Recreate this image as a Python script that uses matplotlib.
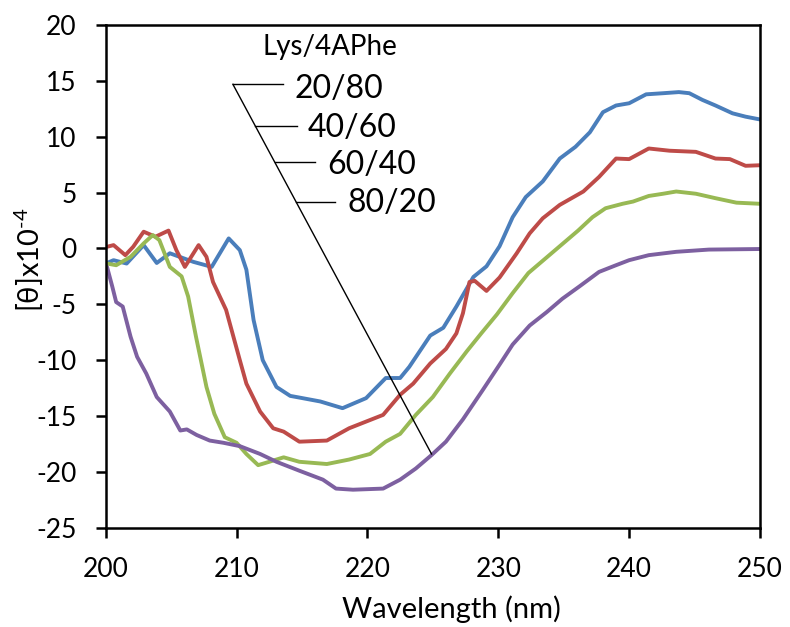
import matplotlib
matplotlib.use("Agg")
import matplotlib.pyplot as plt

plt.rcParams['font.family'] = ['Lato', 'DejaVu Sans']
plt.rcParams['mathtext.fontset'] = 'custom'
plt.rcParams['mathtext.rm'] = 'Lato'
plt.rcParams['axes.unicode_minus'] = False

# ---- data (wavelength nm, [theta] x 10^-4) ----
x_20_80 = [200.1, 200.6, 201.6, 202.9, 203.9, 204.9, 206.7, 208.1, 209.4, 210.25, 210.75, 211.3,
           212.0, 213.05, 214.1, 214.8, 216.4, 218.1, 219.9, 221.4, 222.5, 223.2, 224.8, 225.8,
           226.8, 228.1, 229.1, 230.1, 231.1, 232.1, 233.4, 234.7, 235.9, 237.0, 238.0, 239.0,
           240.0, 241.3, 242.6, 243.8, 244.6, 245.6, 246.6, 247.9, 248.9, 250.0]
y_20_80 = [-1.3, -1.05, -1.35, 0.3, -1.3, -0.43, -1.2, -1.65, 0.9, -0.15, -1.9, -6.4,
           -10.0, -12.4, -13.2, -13.35, -13.7, -14.3, -13.4, -11.6, -11.6, -10.6, -7.8, -7.1,
           -5.2, -2.55, -1.6, 0.2, 2.8, 4.6, 6.0, 8.05, 9.1, 10.4, 12.2, 12.8,
           13.0, 13.8, 13.9, 14.0, 13.9, 13.3, 12.8, 12.1, 11.8, 11.55]

x_40_60 = [200.1, 200.6, 201.5, 202.1, 202.9, 203.8, 204.8, 205.4, 206.05, 207.1, 207.7, 208.2,
           209.2, 210.25, 210.75, 211.8, 212.8, 213.6, 214.8, 216.9, 218.6, 219.9, 221.2, 222.5,
           223.5, 224.8, 226.0, 226.8, 227.3, 227.8, 228.2, 229.1, 230.1, 231.4, 232.4, 233.4,
           234.7, 236.5, 237.7, 239.0, 240.0, 241.5, 243.1, 245.1, 246.6, 247.7, 248.9, 250.0]
y_40_60 = [0.15, 0.3, -0.6, 0.15, 1.5, 1.05, 1.6, -0.15, -1.65, 0.3, -0.75, -3.0,
           -5.5, -10.0, -12.1, -14.6, -16.1, -16.4, -17.3, -17.2, -16.1, -15.5, -14.9, -13.1,
           -12.1, -10.3, -9.0, -7.6, -5.8, -3.0, -2.9, -3.8, -2.6, -0.45, 1.35, 2.7,
           3.9, 5.1, 6.4, 8.05, 8.0, 8.95, 8.75, 8.65, 8.05, 8.0, 7.4, 7.45]

x_60_40 = [200.1, 200.8, 201.9, 202.9, 203.6, 204.1, 204.9, 205.8, 206.3, 206.9, 207.7, 208.3,
           209.1, 210.0, 210.75, 211.65, 212.5, 213.6, 214.8, 216.9, 218.6, 220.2, 221.4, 222.5,
           223.7, 225.0, 226.3, 227.6, 228.7, 229.9, 231.1, 232.3, 233.6, 234.8, 236.1, 237.2,
           238.2, 239.5, 240.3, 241.5, 242.6, 243.6, 245.1, 246.6, 248.2, 250.0]
y_60_40 = [-1.35, -1.5, -0.75, 0.45, 1.2, 0.75, -1.65, -2.5, -4.3, -7.9, -12.4, -14.8,
           -16.9, -17.4, -18.4, -19.4, -19.1, -18.7, -19.1, -19.3, -18.9, -18.4, -17.3, -16.6,
           -14.9, -13.3, -11.2, -9.2, -7.6, -5.9, -4.0, -2.2, -0.9, 0.3, 1.6, 2.8,
           3.6, 4.0, 4.2, 4.7, 4.9, 5.1, 4.9, 4.5, 4.1, 4.0]

x_80_20 = [200.1, 200.5, 200.8, 201.3, 201.9, 202.4, 203.1, 203.9, 204.9, 205.7, 206.2, 206.95,
           207.95, 209.0, 210.25, 211.8, 213.05, 214.8, 216.6, 217.6, 218.9, 221.2, 222.5, 223.7,
           224.9, 226.0, 227.3, 228.8, 230.1, 231.1, 232.4, 233.7, 234.9, 236.2, 237.7, 239.0,
           240.0, 241.5, 243.6, 246.1, 250.0]
y_80_20 = [-1.65, -3.4, -4.8, -5.2, -7.9, -9.7, -11.2, -13.3, -14.6, -16.3, -16.2, -16.7,
           -17.2, -17.4, -17.7, -18.4, -19.1, -19.9, -20.7, -21.5, -21.6, -21.5, -20.7, -19.7,
           -18.5, -17.3, -15.3, -12.7, -10.4, -8.6, -6.9, -5.7, -4.5, -3.4, -2.1, -1.5,
           -1.05, -0.6, -0.3, -0.1, -0.05]

series = [
    ('20/80', x_20_80, y_20_80, '#4A7EBB'),
    ('40/60', x_40_60, y_40_60, '#BE4B48'),
    ('60/40', x_60_40, y_60_40, '#98B954'),
    ('80/20', x_80_20, y_80_20, '#7D60A0'),
]

x_ticks = [200, 210, 220, 230, 240, 250]
y_ticks = [-25, -20, -15, -10, -5, 0, 5, 10, 15, 20]

fig = plt.figure(figsize=(7.9, 6.27), dpi=100)
ax = fig.add_axes([0.1338, 0.1584, 0.8282, 0.8016])

for name, xs, ys, col in series:
    ax.plot(xs, ys, color=col, lw=2.8, solid_capstyle='round', solid_joinstyle='round')

ax.set_xlim(200, 250)
ax.set_ylim(-25, 20)
ax.set_xticks(x_ticks)
ax.set_yticks(y_ticks)
ax.tick_params(axis='both', direction='out', length=7, width=1.8, labelsize=19)
ax.tick_params(axis='x', pad=14)
ax.tick_params(axis='y', pad=14)
for s in ax.spines.values():
    s.set_linewidth(1.8)

ax.set_xlabel('Wavelength (nm)', fontsize=21)
ax.xaxis.set_label_coords(0.5285, -0.135)
ax.set_ylabel(r'[θ]x10$^{\mathregular{\text{-}4}}$', fontsize=21)
ax.yaxis.label.set_va('center')
ax.yaxis.set_label_coords(-0.117, 0.533)

# ---- bracket-style legend drawn like the original callouts ----
top = (209.72, 14.7)
tip = (224.9, -18.4)
ax.plot([top[0], tip[0]], [top[1], tip[1]], color='black', lw=1.0)
slope = (tip[0] - top[0]) / (top[1] - tip[1])
leader_y = [14.7, 10.96, 7.73, 4.15]
leader_end = [213.53, 214.6, 215.98, 217.5]
text_x = [214.45, 215.44, 216.9, 218.5]
text_y = [13.43, 9.94, 6.65, 3.28]
for (name, _, _, _), ly, le, tx, ty in zip(series, leader_y, leader_end, text_x, text_y):
    lx = top[0] + (top[1] - ly) * slope
    ax.plot([lx, le], [ly, ly], color='black', lw=1.0)
    ax.text(tx, ty, name, fontsize=23, ha='left', va='baseline')
ax.text(212.0, 17.3, 'Lys/4APhe', fontsize=20, ha='left', va='baseline')

fig.savefig('out.png', dpi=100)
